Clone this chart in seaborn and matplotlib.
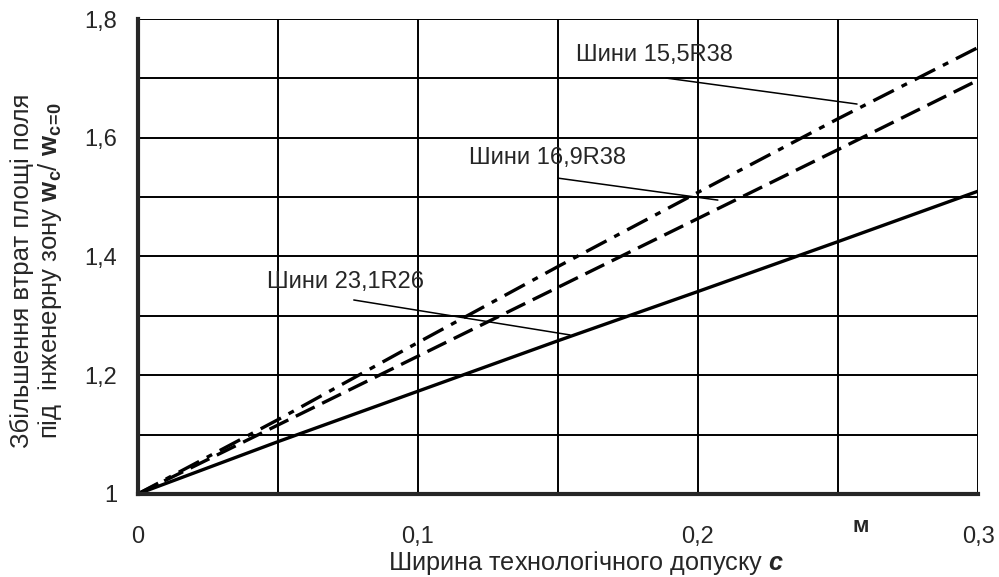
import numpy as np
import pandas as pd
import matplotlib
matplotlib.use("Agg")
import matplotlib.pyplot as plt
import seaborn as sns
from matplotlib.ticker import MultipleLocator, FuncFormatter

# Data
c = [0.0, 0.05, 0.1, 0.15, 0.2, 0.25, 0.3]
tyre_231 = [1.0, 1.088, 1.173, 1.258, 1.341, 1.425, 1.510]
tyre_169 = [1.0, 1.116, 1.232, 1.348, 1.464, 1.580, 1.697]
tyre_155 = [1.0, 1.125, 1.255, 1.383, 1.508, 1.632, 1.752]

labels = ["Шини 15,5R38", "Шини 16,9R38", "Шини 23,1R26"]

df = pd.DataFrame({
    "c": c * 3,
    "ratio": tyre_155 + tyre_169 + tyre_231,
    "tyre": [labels[0]] * 7 + [labels[1]] * 7 + [labels[2]] * 7,
})

sns.set_style("white")
plt.rcParams["font.family"] = ["Liberation Sans", "DejaVu Sans"]
plt.rcParams["mathtext.fontset"] = "custom"
plt.rcParams["mathtext.rm"] = "Liberation Sans"
plt.rcParams["mathtext.bf"] = "Liberation Sans:bold"
plt.rcParams["mathtext.bfit"] = "Liberation Sans:bold:italic"

fig = plt.figure(figsize=(9.99, 5.77), dpi=100)
ax = fig.add_axes([0.138, 0.144, 0.841, 0.823])

styles = {
    labels[0]: (0, (6.9, 2.6, 1.8, 2.6)),
    labels[1]: (0, (6.3, 2.5)),
    labels[2]: "-",
}
for name in labels:
    sub = df[df["tyre"] == name]
    sns.lineplot(data=sub, x="c", y="ratio", ax=ax, color="black",
                 linewidth=2.4, linestyle=styles[name], legend=False)

ax.set_xlim(0, 0.3)
ax.set_ylim(1, 1.8)
ax.xaxis.set_major_locator(MultipleLocator(0.1))
ax.xaxis.set_minor_locator(MultipleLocator(0.05))
ax.yaxis.set_major_locator(MultipleLocator(0.2))
ax.yaxis.set_minor_locator(MultipleLocator(0.1))

fmt = FuncFormatter(lambda v, p: ("%g" % round(v, 2)).replace(".", ","))
ax.xaxis.set_major_formatter(fmt)
ax.yaxis.set_major_formatter(fmt)

ax.grid(True, which="both", color="black", linewidth=1.4)
for s in ["left", "bottom"]:
    ax.spines[s].set_linewidth(3)
ax.spines["right"].set_visible(False)
ax.spines["top"].set_visible(False)

ax.tick_params(axis="both", which="both", direction="out", color="black")
ax.tick_params(axis="y", which="both", length=6, width=3, labelsize=17, pad=9)
ax.tick_params(axis="x", which="major", length=6, width=3, labelsize=17, pad=17)
ax.tick_params(axis="x", which="minor", length=3, width=3)

ax.set_xlabel("Ширина технологічного допуску $\\mathbfit{c}$", fontsize=18.2)
ax.xaxis.label.set_va("center")
ax.xaxis.set_label_coords(0.533, -0.145)

ax.set_ylabel("Збільшення втрат площі поля\nпід  інженерну зону $\\mathbf{w_c}$/ $\\mathbf{w_{c\\!=\\!0}}$",
              fontsize=18.5, linespacing=1.1)
ax.yaxis.label.set_va("center")
ax.yaxis.set_label_coords(-0.120, 0.47)

ax.text(0.258, -0.069, "м", fontsize=16, fontweight="bold", ha="center", va="center",
        transform=ax.get_xaxis_transform(), clip_on=False)

notes = [
    (labels[0], (0.1843, 1.739), (0.1886, 1.7006), (0.2568, 1.6568)),
    (labels[1], (0.1464, 1.566), (0.150, 1.532), (0.2071, 1.495)),
    (labels[2], (0.0743, 1.357), (0.0771, 1.3267), (0.1543, 1.2678)),
]
for text, pos, p0, p1 in notes:
    ax.text(pos[0], pos[1], text, fontsize=17, ha="center", va="center")
    ax.plot([p0[0], p1[0]], [p0[1], p1[1]], color="black", linewidth=1.1)

fig.savefig("out.png", dpi=100)
